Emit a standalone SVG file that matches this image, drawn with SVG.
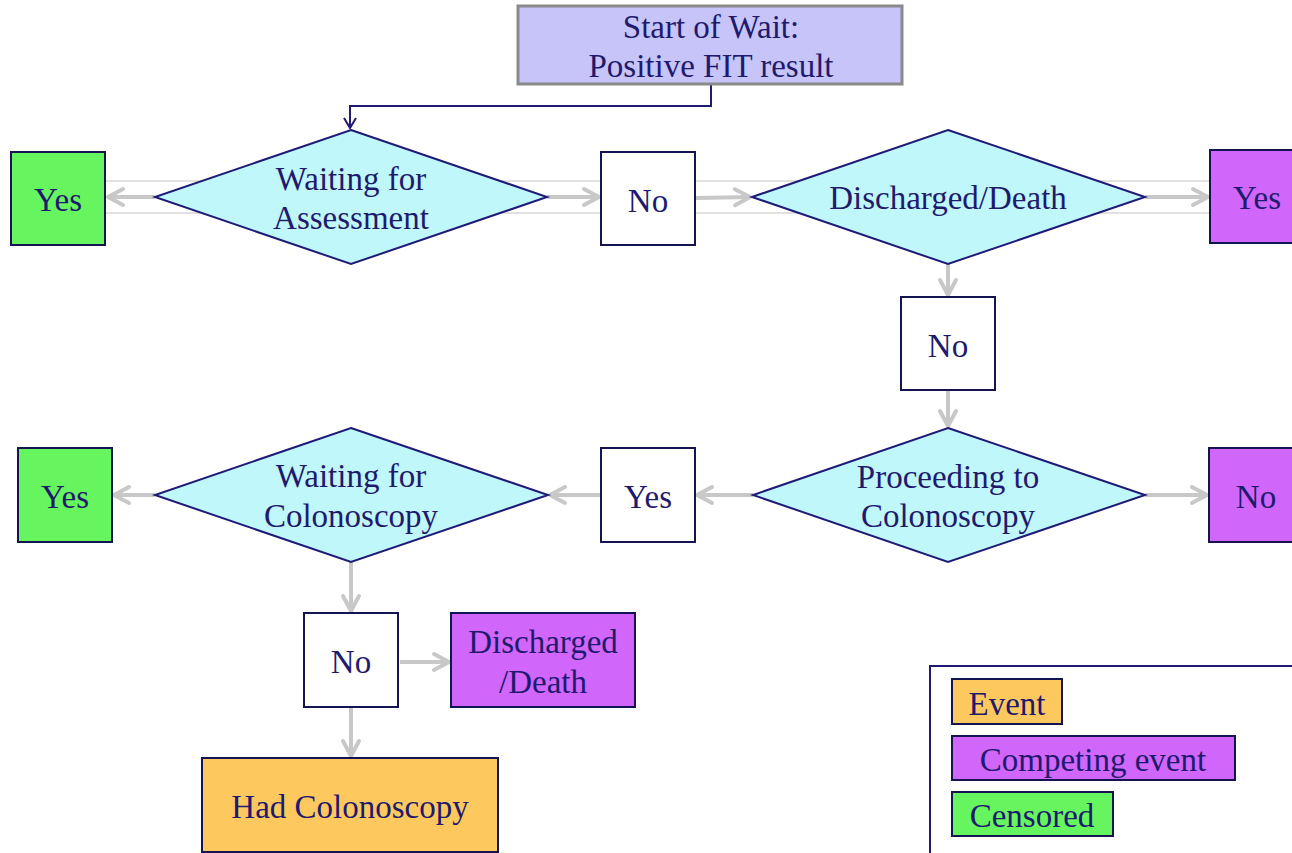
<svg xmlns="http://www.w3.org/2000/svg" width="1292" height="853" viewBox="0 0 1292 853">
<defs>
<style>
text{font-family:"Liberation Serif","Times New Roman",serif;font-size:33px;fill:#1f1a6e;text-anchor:middle}
.dia{fill:#bff7fa;stroke:#1f1a78;stroke-width:2}
.box{stroke:#141450;stroke-width:2}
.w{fill:#ffffff}
.g{fill:#66f55e}
.p{fill:#d066fa}
.o{fill:#fdc95e}
.arr{fill:none;stroke:#c8c8c8;stroke-width:4;marker-end:url(#ga)}
.guide{stroke:#c4c4c4;stroke-width:1.2;fill:none}
</style>
<marker id="ga" markerUnits="userSpaceOnUse" viewBox="-20 -12 24 24" markerWidth="24" markerHeight="24" refX="0" refY="0" orient="auto">
<path d="M-15,-8 L0,0 L-15,8" fill="none" stroke="#c8c8c8" stroke-width="4" stroke-linecap="round" stroke-linejoin="round"/>
</marker>
<marker id="na" markerUnits="userSpaceOnUse" viewBox="-14 -10 16 20" markerWidth="16" markerHeight="20" refX="0" refY="0" orient="auto">
<path d="M-10,-6 L0,0 L-10,6" fill="none" stroke="#1f1a78" stroke-width="2"/>
</marker>
</defs>
<rect width="1292" height="853" fill="#ffffff"/>
<g id="guides">
<line class="guide" x1="105" y1="181" x2="1210" y2="181"/>
<line class="guide" x1="105" y1="213" x2="1210" y2="213"/>
</g>
<g id="connectors">
<polyline points="711,84 711,106 350,106 350,128" fill="none" stroke="#1f1a78" stroke-width="2" marker-end="url(#na)"/>
<line class="arr" x1="155" y1="197" x2="108" y2="197"/>
<line class="arr" x1="547" y1="197" x2="599" y2="197"/>
<line class="arr" x1="696" y1="198" x2="750" y2="197"/>
<line class="arr" x1="1145" y1="197" x2="1208" y2="197"/>
<line class="arr" x1="948" y1="264" x2="948" y2="295"/>
<line class="arr" x1="948" y1="391" x2="948" y2="426"/>
<line class="arr" x1="753" y1="495" x2="697" y2="495"/>
<line class="arr" x1="600" y1="495" x2="550" y2="495"/>
<line class="arr" x1="155" y1="495" x2="114" y2="495"/>
<line class="arr" x1="1145" y1="495" x2="1207" y2="495"/>
<line class="arr" x1="351" y1="562" x2="351" y2="611"/>
<line class="arr" x1="400" y1="662" x2="449" y2="662"/>
<line class="arr" x1="351" y1="708" x2="351" y2="756"/>
</g>
<g id="start">
<rect x="518" y="6" width="384" height="78" fill="#c6c4f8" stroke="#8a8a8a" stroke-width="3"/>
<text x="711" y="38">Start of Wait:</text>
<text x="711" y="77">Positive FIT result</text>
</g>
<g id="waitAssess">
<polygon class="dia" points="351,130 547,197 351,264 155,197"/>
<text x="351" y="190">Waiting for</text>
<text x="351" y="229">Assessment</text>
</g>
<g id="yes1">
<rect class="box g" x="11" y="152" width="94" height="93"/>
<text x="58" y="211">Yes</text>
</g>
<g id="no1">
<rect class="box w" x="601" y="152" width="94" height="93"/>
<text x="648" y="212">No</text>
</g>
<g id="discharged1">
<polygon class="dia" points="948,130 1145,197 948,264 752,197"/>
<text x="948" y="209">Discharged/Death</text>
</g>
<g id="yes2">
<rect class="box p" x="1210" y="150" width="90" height="93"/>
<text x="1257" y="209">Yes</text>
</g>
<g id="no2">
<rect class="box w" x="901" y="297" width="94" height="93"/>
<text x="948" y="357">No</text>
</g>
<g id="proceeding">
<polygon class="dia" points="948,428 1145,495 948,562 753,495"/>
<text x="948" y="488">Proceeding to</text>
<text x="948" y="527">Colonoscopy</text>
</g>
<g id="no3">
<rect class="box p" x="1209" y="448" width="90" height="94"/>
<text x="1256" y="508">No</text>
</g>
<g id="yes3">
<rect class="box w" x="601" y="448" width="94" height="94"/>
<text x="648" y="508">Yes</text>
</g>
<g id="waitColon">
<polygon class="dia" points="351,428 548,495 351,562 155,495"/>
<text x="351" y="487">Waiting for</text>
<text x="351" y="527">Colonoscopy</text>
</g>
<g id="yes4">
<rect class="box g" x="18" y="448" width="94" height="94"/>
<text x="65" y="508">Yes</text>
</g>
<g id="no4">
<rect class="box w" x="304" y="613" width="94" height="94"/>
<text x="351" y="673">No</text>
</g>
<g id="discharged2">
<rect class="box p" x="451" y="613" width="184" height="94"/>
<text x="543" y="653">Discharged</text>
<text x="543" y="693">/Death</text>
</g>
<g id="hadColon">
<rect class="box o" x="202" y="758" width="296" height="94"/>
<text x="350" y="818">Had Colonoscopy</text>
</g>
<g id="legend">
<rect x="930" y="666" width="380" height="200" fill="#ffffff" stroke="#1f1a78" stroke-width="2"/>
<rect class="box o" x="952" y="679" width="110" height="45"/>
<text x="1007" y="715">Event</text>
<rect class="box p" x="952" y="736" width="283" height="44"/>
<text x="1093" y="771">Competing event</text>
<rect class="box g" x="952" y="792" width="161" height="44"/>
<text x="1032" y="827">Censored</text>
</g>
</svg>
